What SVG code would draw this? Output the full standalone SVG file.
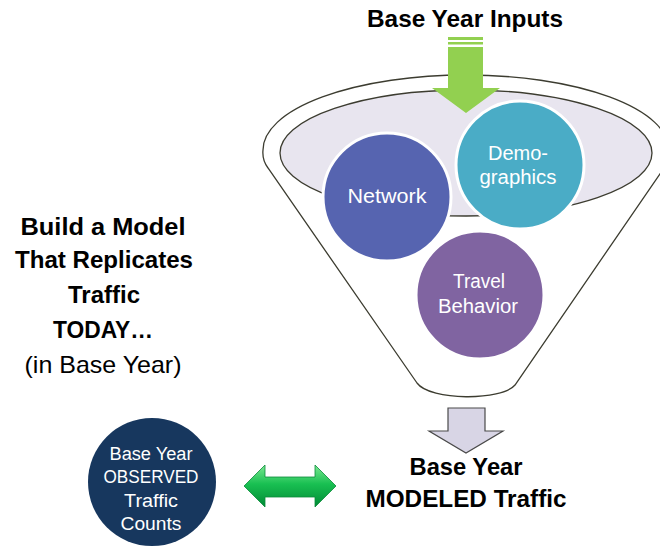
<svg xmlns="http://www.w3.org/2000/svg" width="660" height="546" viewBox="0 0 660 546">
<style>
.lbl{font-family:"Liberation Sans",Arial,sans-serif;fill:#000;text-anchor:middle}
.b{font-weight:bold;font-size:24px}
.w{font-family:"Liberation Sans",Arial,sans-serif;fill:#fff;text-anchor:middle}
.cw{stroke:#fff;stroke-width:3}
.fun{fill:#fff;stroke:#3c3c30;stroke-width:1.3}
</style>
<defs>
<linearGradient id="gg" x1="0" y1="0" x2="0" y2="1">
<stop offset="0" stop-color="#7be891"/>
<stop offset="0.45" stop-color="#19c052"/>
<stop offset="1" stop-color="#008a35"/>
</linearGradient>
</defs>
<rect width="660" height="546" fill="#fff"/>
<g id="title"><text class="lbl b" x="465" y="27" textLength="196" lengthAdjust="spacingAndGlyphs">Base Year Inputs</text></g>
<g id="funnel">
<path class="fun" d="M417,383 L268,168 Q262,160 263,150 A203 75 0 0 1 669,150 Q670,160 664,168 L515,385 C502,401 430,401 417,383 Z"/>
<ellipse cx="466" cy="153" rx="186" ry="63" fill="#e8e5ef" stroke="#3c3c30" stroke-width="1.3"/>
</g>
<g id="connectors">
<g id="input-arrow" fill="#92d050">
<rect x="448" y="37" width="35" height="3"/>
<rect x="448" y="42" width="35" height="2.5"/>
<polygon points="448,47 483,47 483,88 500,88 466,113 432,88 448,88"/>
</g>
<polygon id="output-arrow" points="448,408 485,408 485,431 503,431 466,453 429,431 448,431" fill="#d8d5e5" stroke="#4a4a4a" stroke-width="1.2"/>
<g id="compare-arrow">
<polygon points="244,486 265,465 265,477 315,477 315,465 336,486 315,507 315,497 265,497 265,507" fill="url(#gg)" stroke="#0a8a3a" stroke-width="0.8"/>
</g>
</g>
<g id="network">
<circle class="cw" cx="387" cy="197" r="64" fill="#5664b0"/>
<text class="w" x="387" y="203" font-size="20" textLength="79" lengthAdjust="spacingAndGlyphs">Network</text>
</g>
<g id="demographics">
<circle class="cw" cx="520" cy="165" r="64" fill="#4aacc6"/>
<text class="w" x="518" y="160" font-size="20" textLength="60" lengthAdjust="spacingAndGlyphs">Demo-</text>
<text class="w" x="518" y="184" font-size="20" textLength="77" lengthAdjust="spacingAndGlyphs">graphics</text>
</g>
<g id="travel-behavior">
<circle class="cw" cx="480" cy="295" r="64" fill="#8064a1"/>
<text class="w" x="479" y="288" font-size="20" textLength="52" lengthAdjust="spacingAndGlyphs">Travel</text>
<text class="w" x="478" y="313" font-size="20" textLength="80" lengthAdjust="spacingAndGlyphs">Behavior</text>
</g>
<g id="left-text">
<text class="lbl b" x="103" y="235" textLength="165" lengthAdjust="spacingAndGlyphs">Build a Model</text>
<text class="lbl b" x="104" y="268" textLength="178" lengthAdjust="spacingAndGlyphs">That Replicates</text>
<text class="lbl b" x="104" y="303" textLength="72" lengthAdjust="spacingAndGlyphs">Traffic</text>
<text class="lbl b" x="103" y="338" textLength="100" lengthAdjust="spacingAndGlyphs">TODAY…</text>
<text class="lbl" x="103" y="373" font-size="24" textLength="157" lengthAdjust="spacingAndGlyphs">(in Base Year)</text>
</g>
<g id="observed">
<circle cx="152" cy="482" r="64" fill="#17375e"/>
<text class="w" x="151" y="460" font-size="18" textLength="83" lengthAdjust="spacingAndGlyphs">Base Year</text>
<text class="w" x="151" y="483" font-size="18" textLength="95" lengthAdjust="spacingAndGlyphs">OBSERVED</text>
<text class="w" x="151" y="507" font-size="18" textLength="54" lengthAdjust="spacingAndGlyphs">Traffic</text>
<text class="w" x="151" y="530" font-size="18" textLength="61" lengthAdjust="spacingAndGlyphs">Counts</text>
</g>
<g id="modeled">
<text class="lbl b" x="466" y="475" textLength="113" lengthAdjust="spacingAndGlyphs">Base Year</text>
<text class="lbl b" x="466" y="507" textLength="201" lengthAdjust="spacingAndGlyphs">MODELED Traffic</text>
</g>
</svg>
